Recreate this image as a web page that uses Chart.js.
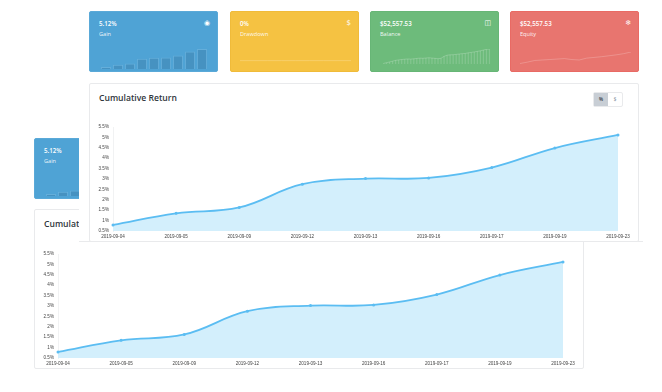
<!DOCTYPE html>
<html>
<head>
<meta charset="utf-8">
<title>Cumulative Return</title>
<script src="https://cdn.jsdelivr.net/npm/chart.js@4"></script>
<style>
    html, body { margin: 0; padding: 0; background: #fff; overflow: hidden; }
    body { width: 662px; height: 392px; position: relative; font-family: "Open Sans", sans-serif; color: #2f353b; }
    canvas { position: absolute; display: block; }
    .card { position: absolute; width: 129px; height: 61px; border-radius: 2px; color: #fff; box-sizing: border-box; overflow: hidden; }
    .card .value { position: absolute; left: 9px; top: 8px; font-size: 6.2px; font-weight: 600; line-height: 8px; }
    .card .name { position: absolute; left: 9px; top: 18px; font-size: 5.6px; line-height: 8px; opacity: .9; }
    .card .icon { position: absolute; right: 7px; top: 7px; font-size: 7px; line-height: 8px; font-family: "DejaVu Sans", sans-serif; }
    .blue { background: #4fa3d5; border: 1px solid #5aa9d8; }
    .yellow { background: #f5c242; border: 1px solid #f0bb3a; }
    .green { background: #6dbb7b; border: 1px solid #67b676; }
    .red { background: #e8756f; border: 1px solid #e96a64; }
    .panel { position: absolute; width: 550px; background: #fff; border: 1px solid #e9eaec; box-sizing: border-box; border-radius: 2px; }
    .panel h3 { position: absolute; left: 9px; top: 8px; margin: 0; font-size: 8.6px; font-weight: 600; line-height: 12px; }
    #cover { position: absolute; left: 79px; top: 0; width: 564px; height: 242px; background: #fff; border-bottom: 1px solid #e9eaec; box-sizing: border-box; }
    .btns { position: absolute; left: 593px; top: 92px; width: 30px; height: 15px; display: flex; font-size: 4.5px; font-weight: 700; line-height: 13px; text-align: center; box-sizing: border-box; border: 1px solid #e9eaec; border-radius: 2px; }
    .btns span { flex: 1; color: #9aa3ad; }
    .btns span.active { background: #c8ced5; color: #4a525b; }
</style>
</head>
<body>

<div class="panel" style="left:34px;top:209px;height:160px"><h3>Cumulative Return</h3></div>
<div class="card blue" style="left:34px;top:138px"><div class="value">5.12%</div><div class="name">Gain</div></div>
<canvas id="gainBack" width="129" height="30" style="left:34px;top:168px"></canvas>
<canvas id="returnBack" width="550" height="130" style="left:34px;top:239px"></canvas>

<div id="cover"></div>
<div class="card blue" style="left:89px;top:11px"><div class="value">5.12%</div><div class="name">Gain</div><div class="icon">◉</div></div>
<div class="card yellow" style="left:230px;top:11px"><div class="value">0%</div><div class="name">Drawdown</div><div class="icon">$</div></div>
<div class="card green" style="left:370px;top:11px"><div class="value">$52,557.53</div><div class="name">Balance</div><div class="icon">◫</div></div>
<div class="card red" style="left:510px;top:11px"><div class="value">$52,557.53</div><div class="name">Equity</div><div class="icon">❄</div></div>
<canvas id="gainSpark" width="129" height="30" style="left:89px;top:41px"></canvas>
<canvas id="drawSpark" width="129" height="30" style="left:230px;top:41px"></canvas>
<canvas id="balanceSpark" width="129" height="30" style="left:370px;top:41px"></canvas>
<canvas id="equitySpark" width="129" height="30" style="left:510px;top:41px"></canvas>

<div class="panel" style="left:89px;top:83px;height:159px"><h3>Cumulative Return</h3></div>
<div class="btns"><span class="active">%</span><span>$</span></div>
<canvas id="returnMain" width="550" height="130" style="left:89px;top:112px"></canvas>

<script>
// Chart data
const dates = ['2019-09-04', '2019-09-05', '2019-09-09', '2019-09-12', '2019-09-13', '2019-09-16', '2019-09-17', '2019-09-19', '2019-09-23'];
const returns = [0.79, 1.35, 1.63, 2.75, 3.02, 3.05, 3.55, 4.49, 5.12];
const yTicks = [0.5, 1, 1.5, 2, 2.5, 3, 3.5, 4, 4.5, 5, 5.5];
const drawdown = [0, 0, 0, 0, 0, 0, 0, 0, 0];
const balance = [50100, 50220, 50350, 50480, 50620, 50700, 50760, 50820, 50860, 50830, 50880, 50950, 51000, 50970, 51020, 51060, 51010, 50960, 50900, 50980, 51300, 51500, 51560, 51580, 51640, 51700, 51760, 51800, 51900, 51980, 52060, 52160, 52240, 52380, 52500, 52557];
const equity = [50100, 50400, 50750, 50850, 50950, 51050, 51150, 50950, 50850, 51250, 51400, 51550, 51750, 51950, 52200, 52557];

// Large cumulative return chart, the two copies only differ by position
function drawReturnChart(id) {
    new Chart(document.getElementById(id), {
        type: 'line',
        data: {
            labels: dates,
            datasets: [{
                data: returns,
                borderColor: '#5bbdf2',
                backgroundColor: '#d3effc',
                borderWidth: 1.8,
                pointRadius: 1.5,
                pointBackgroundColor: '#5bbdf2',
                pointBorderWidth: 0,
                tension: 0.4,
                fill: 'start'
            }]
        },
        options: {
            responsive: false,
            animation: false,
            layout: { padding: { top: 15, right: 21, bottom: 0, left: 0 } },
            plugins: { legend: { display: false }, tooltip: { enabled: false } },
            scales: {
                x: {
                    afterFit: (axis) => { axis.height = 11; },
                    grid: { display: false, drawTicks: false },
                    border: { color: '#ffffff' },
                    ticks: { color: '#444', font: { family: 'Liberation Sans', size: 4.6 }, maxRotation: 0, autoSkip: false, padding: 3 }
                },
                y: {
                    min: yTicks[0],
                    max: yTicks[yTicks.length - 1],
                    afterFit: (axis) => { axis.width = 24; },
                    afterBuildTicks: (axis) => { axis.ticks = yTicks.map((v) => ({ value: v })); },
                    grid: { display: false, drawTicks: false },
                    border: { color: '#f1f2f3' },
                    ticks: { color: '#444', font: { family: 'Liberation Sans', size: 4.6 }, padding: 4, callback: (v) => v + '%' }
                }
            }
        }
    });
}

// Small bar chart inside the Gain cards
function drawGainSpark(id) {
    new Chart(document.getElementById(id), {
        type: 'bar',
        data: {
            labels: dates,
            datasets: [{
                data: returns,
                backgroundColor: 'rgba(40,90,130,0.24)',
                borderColor: 'rgba(255,255,255,0.12)',
                borderWidth: 1,
                barPercentage: 0.85,
                categoryPercentage: 1
            }]
        },
        options: {
            responsive: false,
            animation: false,
            layout: { padding: { top: 8, right: 10, bottom: 2, left: 11 } },
            plugins: { legend: { display: false }, tooltip: { enabled: false } },
            scales: { x: { display: false }, y: { display: false, min: 0.3, max: 5.12 } }
        }
    });
}

drawReturnChart('returnBack');
drawReturnChart('returnMain');
drawGainSpark('gainBack');
drawGainSpark('gainSpark');

// Drawdown: flat line at zero
new Chart(document.getElementById('drawSpark'), {
    type: 'line',
    data: {
        labels: dates,
        datasets: [{ data: drawdown, borderColor: 'rgba(255,255,255,0.3)', borderWidth: 0.7, pointRadius: 0 }]
    },
    options: {
        responsive: false,
        animation: false,
        layout: { padding: { top: 0, right: 8, bottom: 0, left: 10 } },
        plugins: { legend: { display: false }, tooltip: { enabled: false } },
        scales: { x: { display: false }, y: { display: false, min: -9, max: 17 } }
    }
});

// Balance: thin bars with a line over them
new Chart(document.getElementById('balanceSpark'), {
    type: 'bar',
    data: {
        labels: balance.map((v, i) => i),
        datasets: [
            { type: 'line', data: balance, borderColor: 'rgba(255,255,255,0.3)', borderWidth: 0.7, pointRadius: 0 },
            { data: balance, backgroundColor: 'rgba(255,255,255,0.16)', barPercentage: 0.4, categoryPercentage: 1 }
        ]
    },
    options: {
        responsive: false,
        animation: false,
        layout: { padding: { top: 8, right: 8, bottom: 7, left: 12 } },
        plugins: { legend: { display: false }, tooltip: { enabled: false } },
        scales: { x: { display: false }, y: { display: false, min: 50000, max: 52557 } }
    }
});

// Equity: plain line
new Chart(document.getElementById('equitySpark'), {
    type: 'line',
    data: {
        labels: equity.map((v, i) => i),
        datasets: [{ data: equity, borderColor: 'rgba(255,255,255,0.3)', borderWidth: 0.7, pointRadius: 0 }]
    },
    options: {
        responsive: false,
        animation: false,
        layout: { padding: { top: 11, right: 8, bottom: 7, left: 10 } },
        plugins: { legend: { display: false }, tooltip: { enabled: false } },
        scales: { x: { display: false }, y: { display: false, min: 50000, max: 52557 } }
    }
});
</script>
</body>
</html>
